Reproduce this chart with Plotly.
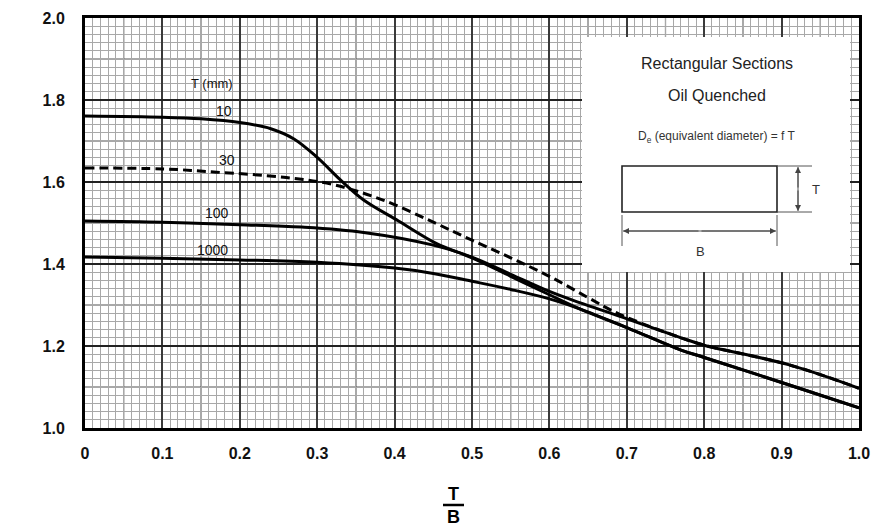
import numpy as np
import plotly.graph_objects as go

# ---- data ----
x_10 = [0, 0.1, 0.15, 0.2, 0.24, 0.27, 0.3, 0.33, 0.36, 0.405, 0.455, 0.5, 0.55, 0.6, 0.64, 0.7, 0.77, 0.8, 0.91, 1.0]
f_10 = [1.761, 1.758, 1.754, 1.745, 1.73, 1.705, 1.66, 1.605, 1.556, 1.505, 1.449, 1.415, 1.37, 1.325, 1.29, 1.245, 1.19, 1.172, 1.105, 1.049]

x_30 = [0, 0.1, 0.17, 0.26, 0.32, 0.385, 0.45, 0.5, 0.55, 0.6, 0.65, 0.69, 0.77, 0.8, 0.91, 1.0]
f_30 = [1.634, 1.632, 1.624, 1.611, 1.594, 1.556, 1.502, 1.458, 1.415, 1.37, 1.318, 1.278, 1.22, 1.202, 1.154, 1.097]

x_100 = [0, 0.1, 0.2, 0.28, 0.36, 0.45, 0.5, 0.55, 0.6, 0.64, 0.69, 0.77, 0.8, 0.91, 1.0]
f_100 = [1.505, 1.502, 1.496, 1.49, 1.477, 1.446, 1.417, 1.375, 1.333, 1.305, 1.273, 1.22, 1.202, 1.154, 1.097]

x_1000 = [0, 0.1, 0.2, 0.3, 0.4, 0.45, 0.5, 0.55, 0.6, 0.64, 0.7, 0.77, 0.8, 0.91, 1.0]
f_1000 = [1.417, 1.414, 1.41, 1.404, 1.39, 1.377, 1.358, 1.338, 1.315, 1.29, 1.245, 1.19, 1.172, 1.105, 1.049]

curve_labels = ["10", "30", "100", "1000"]
label_x = [0.18, 0.184, 0.171, 0.165]
label_f = [1.773, 1.654, 1.524, 1.434]

x_tickvals = [0, 0.1, 0.2, 0.3, 0.4, 0.5, 0.6, 0.7, 0.8, 0.9, 1.0]
x_ticktext = ["0", "0.1", "0.2", "0.3", "0.4", "0.5", "0.6", "0.7", "0.8", "0.9", "1.0"]
y_tickvals = [1.0, 1.2, 1.4, 1.6, 1.8, 2.0]
y_ticktext = ["1.0", "1.2", "1.4", "1.6", "1.8", "2.0"]

FONT = "Liberation Sans, Arial, sans-serif"

L, R, T, B = 85, 16, 18, 100
W, H = 875, 528
PW, PH = W - L - R, H - T - B

def px2x(p):
    return (p - L) / PW
def py2f(p):
    return 1 + (H - B - p) / PH
def py2paper(p):
    return (H - B - p) / PH

fig = go.Figure()
line_style = dict(color="black", width=3, shape="spline", smoothing=1.0)
fig.add_trace(go.Scatter(x=x_10, y=f_10, mode="lines", line=line_style, name="10"))
fig.add_trace(go.Scatter(x=x_100, y=f_100, mode="lines", line=line_style, name="100"))
fig.add_trace(go.Scatter(x=x_1000, y=f_1000, mode="lines", line=line_style, name="1000"))
fig.add_trace(go.Scatter(x=x_30, y=f_30, mode="lines",
                         line=dict(color="black", width=3, dash="9px,5px", shape="spline", smoothing=1.0),
                         name="30"))

shapes = []
for xv in np.arange(0.05, 1.0, 0.1):
    shapes.append(dict(type="line", xref="x", yref="y", x0=xv, x1=xv, y0=1.0, y1=2.0,
                       line=dict(color="#555555", width=1.2), layer="below"))
for yv in np.arange(1.1, 2.0, 0.2):
    shapes.append(dict(type="line", xref="x", yref="y", x0=0, x1=1, y0=yv, y1=yv,
                       line=dict(color="#555555", width=1.2), layer="below"))

# inset panel
shapes.append(dict(type="rect", xref="x", yref="y", x0=px2x(582), x1=px2x(850), y0=py2f(272), y1=py2f(37),
                   fillcolor="white", line=dict(width=0), layer="above"))
shapes.append(dict(type="rect", xref="x", yref="y", x0=px2x(622), x1=px2x(777), y0=py2f(212), y1=py2f(166),
                   line=dict(color="#222222", width=1.6), fillcolor="white", layer="above"))
dim = dict(color="#555555", width=1)
shapes.append(dict(type="line", xref="x", yref="y", x0=px2x(777), x1=px2x(812), y0=py2f(166), y1=py2f(166), line=dim, layer="above"))
shapes.append(dict(type="line", xref="x", yref="y", x0=px2x(777), x1=px2x(812), y0=py2f(212), y1=py2f(212), line=dim, layer="above"))
shapes.append(dict(type="line", xref="x", yref="y", x0=px2x(798), x1=px2x(798), y0=py2f(167), y1=py2f(211), line=dim, layer="above"))
shapes.append(dict(type="line", xref="x", yref="y", x0=px2x(622), x1=px2x(622), y0=py2f(215), y1=py2f(246), line=dim, layer="above"))
shapes.append(dict(type="line", xref="x", yref="y", x0=px2x(777), x1=px2x(777), y0=py2f(215), y1=py2f(246), line=dim, layer="above"))
shapes.append(dict(type="line", xref="x", yref="y", x0=px2x(623), x1=px2x(776), y0=py2f(231), y1=py2f(231), line=dim, layer="above"))
# x-axis title fraction bar
shapes.append(dict(type="line", xref="x", yref="paper", x0=px2x(443), x1=px2x(464),
                   y0=py2paper(505), y1=py2paper(505), line=dict(color="black", width=2.5)))

annotations = []
for t, xv, fv in zip(curve_labels, label_x, label_f):
    annotations.append(dict(x=xv, y=fv, xref="x", yref="y", text=t, showarrow=False,
                            font=dict(family=FONT, size=14, color="#111111")))
annotations.append(dict(x=0.164, y=1.841, xref="x", yref="y", text="T (mm)", showarrow=False,
                        font=dict(family=FONT, size=13, color="#111111")))
annotations.append(dict(x=px2x(717), y=py2f(63), xref="x", yref="y", text="Rectangular Sections", showarrow=False,
                        font=dict(family=FONT, size=16, color="#222222")))
annotations.append(dict(x=px2x(717), y=py2f(95), xref="x", yref="y", text="Oil Quenched", showarrow=False,
                        font=dict(family=FONT, size=16, color="#222222")))
annotations.append(dict(x=px2x(717), y=py2f(137), xref="x", yref="y",
                        text="D<sub>e</sub> (equivalent diameter) = f T", showarrow=False,
                        font=dict(family=FONT, size=12, color="#333333")))
annotations.append(dict(x=px2x(816), y=py2f(189), xref="x", yref="y", text="T", showarrow=False,
                        font=dict(family=FONT, size=13, color="#333333")))
annotations.append(dict(x=px2x(700), y=py2f(251), xref="x", yref="y", text="B", showarrow=False,
                        font=dict(family=FONT, size=13, color="#333333")))
for (ax, ay, hx, hy) in [(798, 189, 798, 167), (798, 189, 798, 211), (700, 231, 623, 231), (700, 231, 776, 231)]:
    annotations.append(dict(x=px2x(hx), y=py2f(hy), ax=px2x(ax), ay=py2f(ay), xref="x", yref="y",
                            axref="x", ayref="y", text="", showarrow=True, arrowhead=2,
                            arrowsize=1.2, arrowwidth=1, arrowcolor="#444444", standoff=0))
annotations.append(dict(x=px2x(12), y=py2f(226), xref="x", yref="y", text="<b>f</b>", showarrow=False,
                        xanchor="center", yanchor="middle",
                        font=dict(family=FONT, size=20, color="black")))
annotations.append(dict(x=px2x(453), y=py2paper(494), xref="x", yref="paper", text="<b>T</b>", showarrow=False,
                        xanchor="center", yanchor="middle",
                        font=dict(family=FONT, size=18, color="black")))
annotations.append(dict(x=px2x(453), y=py2paper(517), xref="x", yref="paper", text="<b>B</b>", showarrow=False,
                        xanchor="center", yanchor="middle",
                        font=dict(family=FONT, size=18, color="black")))

fig.update_layout(
    width=W, height=H,
    margin=dict(l=L, r=R, t=T, b=B, autoexpand=False),
    paper_bgcolor="white", plot_bgcolor="white",
    showlegend=False,
    shapes=shapes, annotations=annotations,
    font=dict(family=FONT, color="black"),
)
fig.update_xaxes(
    range=[0, 1.0], tickvals=x_tickvals, ticktext=["<b>%s</b>" % t for t in x_ticktext],
    tickfont=dict(family=FONT, size=16, color="#111111"),
    showgrid=True, gridcolor="#3a3a3a", gridwidth=2,
    minor=dict(dtick=0.01, tick0=0, showgrid=True, gridcolor="#a8a8a8", gridwidth=1),
    showline=True, linecolor="black", linewidth=3, mirror=True,
    ticks="", ticklabelstandoff=9, zeroline=False, automargin=False,
)
fig.update_yaxes(
    range=[1.0, 2.0], tickvals=y_tickvals, ticktext=["<b>%s</b>" % t for t in y_ticktext],
    tickfont=dict(family=FONT, size=16, color="#111111"),
    showgrid=True, gridcolor="#222222", gridwidth=1.6,
    minor=dict(dtick=0.02, tick0=1.0, showgrid=True, gridcolor="#a8a8a8", gridwidth=1),
    showline=True, linecolor="black", linewidth=3, mirror=True,
    ticks="", ticklabelstandoff=14, zeroline=False, automargin=False,
)

fig.write_html("out.html", config={"displayModeBar": False},
               post_script="document.body.style.margin='0';document.body.style.overflow='hidden';")
